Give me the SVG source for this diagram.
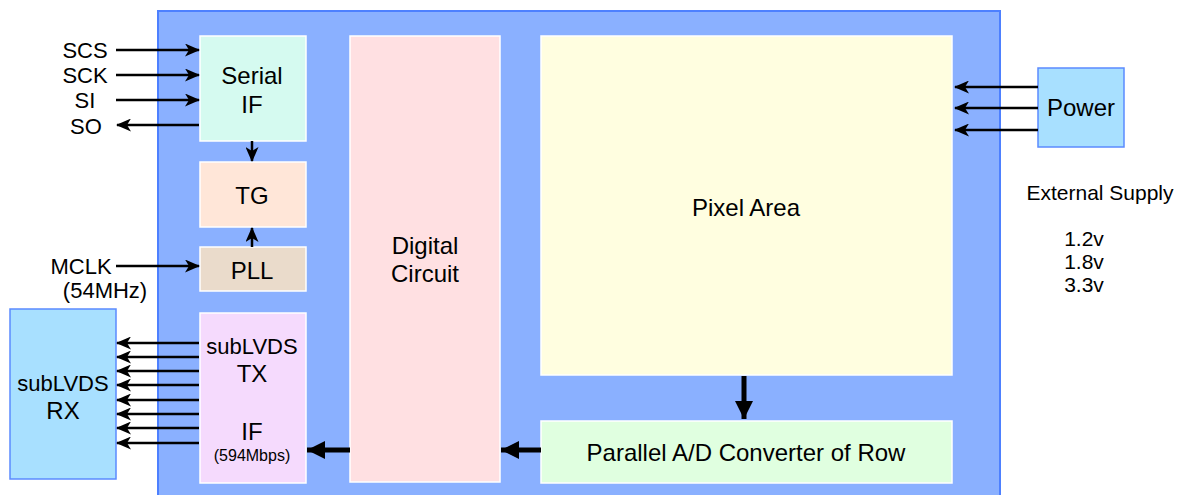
<svg xmlns="http://www.w3.org/2000/svg" width="1183" height="495" viewBox="0 0 1183 495">
<defs>
<marker id="ah" markerWidth="15" markerHeight="13" refX="14" refY="6.5" orient="auto" markerUnits="userSpaceOnUse" viewBox="0 0 15 13">
<path d="M0,0 L15,6.5 L0,13 L4,6.5 Z" fill="#000"/>
</marker>
<marker id="ahb" markerWidth="20" markerHeight="18" refX="18" refY="9" orient="auto" markerUnits="userSpaceOnUse" viewBox="0 0 20 18">
<path d="M0,0 L18,9 L0,18 Z" fill="#000"/>
</marker>
<style>
text{font-family:"Liberation Sans",Arial,sans-serif;fill:#000;text-anchor:middle;dominant-baseline:central}
.blk{stroke:#fff;stroke-width:1.5}
.ln{stroke:#000;stroke-width:2.5;fill:none;marker-end:url(#ah)}
.thk{stroke:#000;stroke-width:5;fill:none;marker-end:url(#ahb)}
.t24{font-size:24px}
.t22{font-size:22px}
.t21{font-size:21px}
</style>
</defs>
<rect width="1183" height="495" fill="#fff"/>
<g id="chip"><rect x="158" y="11" width="842" height="490" fill="#8AB0FF" stroke="#4D80FF" stroke-width="2"/></g>
<g id="serial"><rect class="blk" x="200" y="36" width="106" height="105" fill="#D5FAF0"/><text class="t24" x="252" y="75">Serial</text><text class="t24" x="252" y="104">IF</text></g>
<g id="tg"><rect class="blk" x="200" y="162" width="106" height="65" fill="#FFE6D8"/><text class="t24" x="252" y="195">TG</text></g>
<g id="pll"><rect class="blk" x="200" y="247" width="106" height="44" fill="#EADBCB"/><text class="t24" x="252" y="270">PLL</text></g>
<g id="tx"><rect class="blk" x="200" y="313" width="106" height="170" fill="#F5DAFD"/><text class="t22" x="252" y="346">subLVDS</text><text class="t24" x="252" y="373">TX</text><text class="t24" x="252" y="431">IF</text><text x="252" y="455" font-size="16px">(594Mbps)</text></g>
<g id="rx"><rect x="10" y="309" width="106" height="170" fill="#A8E0FF" stroke="#5B8BFF" stroke-width="1.5"/><text class="t22" x="63" y="383">subLVDS</text><text class="t24" x="63" y="410">RX</text></g>
<g id="digital"><rect class="blk" x="350" y="36" width="150" height="446" fill="#FFE0E2"/><text class="t24" x="425" y="245">Digital</text><text class="t24" x="425" y="273">Circuit</text></g>
<g id="pixel"><rect class="blk" x="541" y="36" width="411" height="339" fill="#FFFEE0"/><text class="t24" x="746" y="207">Pixel Area</text></g>
<g id="adc"><rect class="blk" x="541" y="421" width="411" height="62" fill="#E0FFE0"/><text class="t24" x="746" y="452">Parallel A/D Converter of Row</text></g>
<g id="power"><rect x="1038" y="68" width="86" height="79" fill="#A8E0FF" stroke="#5B8BFF" stroke-width="1.5"/><text class="t24" x="1081" y="107">Power</text></g>
<g id="labels">
<text class="t22" x="85" y="50">SCS</text>
<text class="t22" x="85" y="75">SCK</text>
<text class="t22" x="85" y="100">SI</text>
<text class="t22" x="86" y="126">SO</text>
<text class="t22" x="81" y="266">MCLK</text>
<text class="t22" x="105" y="290">(54MHz)</text>
<text class="t21" x="1100" y="192">External Supply</text>
<text class="t21" x="1084" y="238">1.2v</text>
<text class="t21" x="1084" y="261">1.8v</text>
<text class="t21" x="1084" y="284">3.3v</text>
</g>
<g id="connectors">
<line class="ln" x1="116" y1="50" x2="199" y2="50"/>
<line class="ln" x1="116" y1="75" x2="199" y2="75"/>
<line class="ln" x1="116" y1="100" x2="199" y2="100"/>
<line class="ln" x1="199" y1="125" x2="117" y2="125"/>
<line class="ln" x1="252" y1="141" x2="252" y2="161"/>
<line class="ln" x1="252" y1="247" x2="252" y2="228"/>
<line class="ln" x1="116" y1="266" x2="199" y2="266"/>
<line class="ln" x1="199" y1="343" x2="117" y2="343"/>
<line class="ln" x1="199" y1="357" x2="117" y2="357"/>
<line class="ln" x1="199" y1="371" x2="117" y2="371"/>
<line class="ln" x1="199" y1="385" x2="117" y2="385"/>
<line class="ln" x1="199" y1="400" x2="117" y2="400"/>
<line class="ln" x1="199" y1="414" x2="117" y2="414"/>
<line class="ln" x1="199" y1="428" x2="117" y2="428"/>
<line class="ln" x1="199" y1="443" x2="117" y2="443"/>
<line class="ln" x1="1038" y1="87" x2="955" y2="87"/>
<line class="ln" x1="1038" y1="108" x2="955" y2="108"/>
<line class="ln" x1="1038" y1="130" x2="955" y2="130"/>
<line class="thk" x1="350" y1="450" x2="307" y2="450"/>
<line class="thk" x1="541" y1="450" x2="501" y2="450"/>
<line class="thk" x1="744" y1="376" x2="744" y2="419"/>
</g>
</svg>
